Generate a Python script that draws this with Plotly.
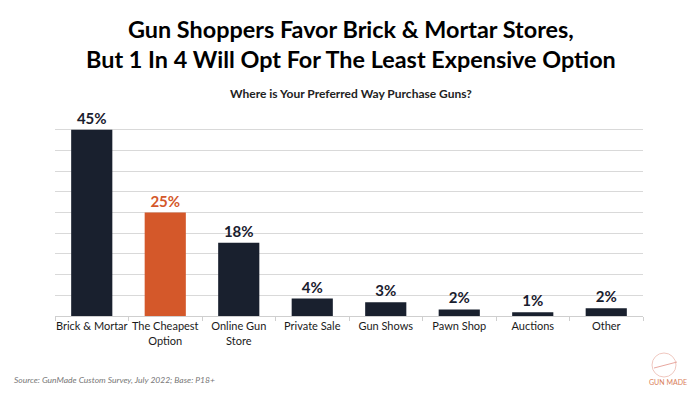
import plotly.graph_objects as go

categories = ["Brick & Mortar", "The Cheapest<br>Option", "Online Gun<br>Store", "Private Sale",
              "Gun Shows", "Pawn Shop", "Auctions", "Other"]
values = [45, 25, 17.7, 4.2, 3.3, 1.6, 0.9, 1.9]
labels = ["45%", "25%", "18%", "4%", "3%", "2%", "1%", "2%"]
highlight = "The Cheapest<br>Option"

NAVY = "#19202e"
ORANGE = "#d4582a"
colors = [ORANGE if c == highlight else NAVY for c in categories]

# page body has an 8px default margin; lay out in window pixel coords
OFF = 8
W, H = 700 - OFF, 394 - OFF
L, R, T, B = 55, 643, 109, 316           # plot area in window pixels
ml, mr, mt, mb = L - OFF, 700 - R, T - OFF, 394 - B
pw, ph = W - ml - mr, H - mt - mb


def px(x):
    return (x - OFF - ml) / pw


def py(y):
    return (H - mb - (y - OFF)) / ph


fig = go.Figure(go.Bar(
    x=categories, y=values, text=labels, textposition="outside",
    marker=dict(color=colors, line=dict(width=0)),
    textfont=dict(family="Lato", size=15, color=colors, weight="bold"),
    cliponaxis=False, width=0.56,
))

fig.update_layout(
    width=W, height=H,
    margin=dict(l=ml, r=mr, t=mt, b=mb, autoexpand=False),
    paper_bgcolor="white", plot_bgcolor="white",
    showlegend=False,
    font=dict(family="Lato", color="#1a1a1a"),
    xaxis=dict(showline=True, linecolor="#cfcfcf", linewidth=1, automargin=False,
               tickangle=0,
               ticks="outside", tickson="boundaries", ticklen=4, tickcolor="#cfcfcf",
               tickfont=dict(size=11, color="#1a1a1a"), showgrid=False),
    yaxis=dict(range=[0, 50], dtick=5, showticklabels=False, showgrid=True, automargin=False,
               gridcolor="#d9d9d9", gridwidth=1, zeroline=False, showline=False),
    annotations=[
        dict(text="<b>Gun Shoppers Favor Brick & Mortar Stores,<br>But 1 In 4 Will Opt For The Least Expensive Option</b>",
             x=px(351), y=py(44), xref="paper", yref="paper", xanchor="center", yanchor="middle",
             showarrow=False, font=dict(family="Lato", size=23.4, color="#000000")),
        dict(text="<b>Where is Your Preferred Way Purchase Guns?</b>",
             x=px(351), y=py(93), xref="paper", yref="paper", xanchor="center", yanchor="middle",
             showarrow=False, font=dict(family="Lato", size=12, color="#222222")),
        dict(text="<i>Source: GunMade Custom Survey, July 2022; Base: P18+</i>",
             x=px(12), y=py(380), xref="paper", yref="paper", xanchor="left", yanchor="middle",
             showarrow=False, font=dict(family="Lato", size=8.5, color="#777777")),
        dict(text="GUN MADE", x=px(668), y=py(382), xref="paper", yref="paper",
             xanchor="center", yanchor="middle",
             showarrow=False, font=dict(family="Lato", size=7, color="#d9805a")),
    ],
)

fig.add_shape(type="circle", xref="paper", yref="paper",
              x0=px(652), x1=px(676), y0=py(377), y1=py(353),
              line=dict(color="#f0c8c0", width=1))
fig.add_shape(type="line", xref="paper", yref="paper",
              x0=px(654), x1=px(677), y0=py(368), y1=py(362),
              line=dict(color="#e8a8a0", width=1))

fig.write_html("out.html")
